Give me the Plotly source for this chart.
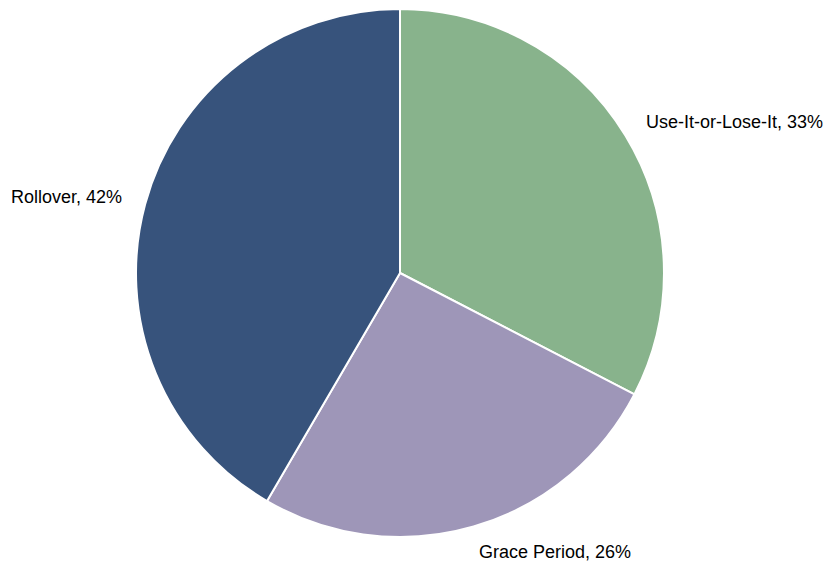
import math
import plotly.graph_objects as go

labels = ["Use-It-or-Lose-It", "Grace Period", "Rollover"]
values = [32.6, 25.8, 41.6]
colors = ["#88b38c", "#9e96b8", "#37537c"]

W, H = 826, 561
cx, cy, r = 400, 273, 264
label_dist = 1.1

fig = go.Figure(go.Pie(
    labels=labels,
    values=values,
    sort=False,
    direction="clockwise",
    rotation=0,
    marker=dict(colors=colors, line=dict(color="white", width=2)),
    textinfo="none",
    hoverinfo="label+percent",
    domain=dict(x=[(cx - r) / W, (cx + r) / W], y=[(H - cy - r) / H, (H - cy + r) / H]),
))

total = sum(values)
cum = 0.0
annotations = []
for lab, v in zip(labels, values):
    mid = (cum + v / 2) / total * 2 * math.pi  # clockwise from top
    cum += v
    px = cx + label_dist * r * math.sin(mid)
    py = cy - label_dist * r * math.cos(mid)
    right_side = math.sin(mid) > 0
    annotations.append(dict(
        x=px / W, y=1 - py / H, xref="paper", yref="paper",
        text=f"{lab}, {round(v / total * 100)}%",
        showarrow=False,
        xanchor="left" if right_side else "right",
        yanchor="middle",
        xshift=-3 if right_side else 3,
        borderpad=0,
        font=dict(family="Liberation Sans, Arial, sans-serif", size=18, color="black"),
    ))

fig.update_layout(
    width=W, height=H,
    margin=dict(l=0, r=0, t=0, b=0),
    showlegend=False,
    paper_bgcolor="white",
    plot_bgcolor="white",
    annotations=annotations,
)

fig.write_html("out.html")
